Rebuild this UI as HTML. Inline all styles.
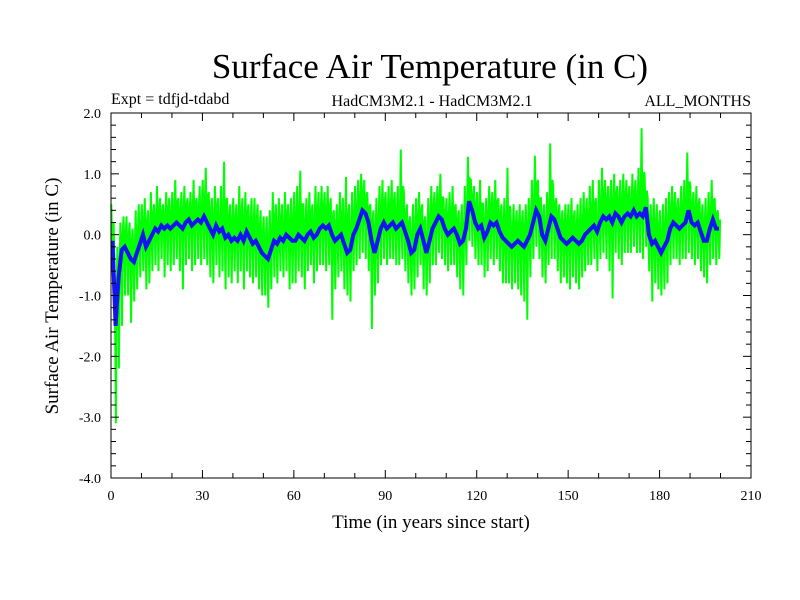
<!DOCTYPE html>
<html><head><meta charset="utf-8"><style>
body{margin:0;background:#fff}
svg{display:block;font-family:"Liberation Serif",serif}
</style></head><body>
<svg id="chart" width="800" height="600" viewBox="0 0 800 600">
<text x="430" y="78" font-size="35" text-anchor="middle">Surface Air Temperature (in C)</text>
<text x="111" y="104" font-size="16">Expt = tdfjd-tdabd</text>
<text x="432" y="106" font-size="16" text-anchor="middle">HadCM3M2.1 - HadCM3M2.1</text>
<text x="751" y="106" font-size="16" text-anchor="end">ALL_MONTHS</text>
<g id="plot"></g>
<rect x="111" y="113" width="640" height="365" fill="none" stroke="#000" stroke-width="1"/>
<g id="axes"></g>
<text x="431" y="528" font-size="19" text-anchor="middle">Time (in years since start)</text>
<text transform="translate(58,296) rotate(-90)" font-size="19" text-anchor="middle">Surface Air Temperature (in C)</text>
</svg>
<script>
const xTicks=[0,30,60,90,120,150,180,210];
const yTicks=[2.0,1.0,0.0,-1.0,-2.0,-3.0,-4.0];
const blue=[-0.1,-1.5,-0.7,-0.25,-0.2,-0.3,-0.4,-0.45,-0.3,-0.15,
0.0,-0.2,-0.1,0.0,0.1,0.05,0.15,0.1,0.15,0.1,
0.15,0.2,0.15,0.1,0.2,0.25,0.15,0.2,0.25,0.2,
0.3,0.2,0.1,0.0,0.15,0.05,0.1,-0.05,0.0,-0.1,
-0.05,-0.1,0.0,-0.1,0.05,-0.05,-0.15,-0.1,-0.2,-0.3,
-0.35,-0.4,-0.25,-0.1,-0.15,-0.05,-0.1,0.0,-0.05,-0.1,
-0.1,0.0,-0.05,-0.1,0.0,0.05,-0.05,0.0,0.1,0.15,
0.1,0.15,0.0,-0.1,-0.05,0.0,-0.15,-0.3,-0.25,0.0,
0.1,0.25,0.4,0.35,0.2,-0.1,-0.3,-0.1,0.1,0.2,
0.1,0.15,0.2,0.1,0.15,0.2,0.05,-0.1,-0.3,-0.25,
0.0,0.1,-0.1,-0.3,-0.1,0.1,0.2,0.3,0.25,0.1,
0.0,0.05,0.1,0.0,-0.15,-0.1,0.1,0.55,0.4,0.2,
0.1,0.15,-0.05,0.05,0.2,0.15,0.2,0.05,-0.05,-0.1,
-0.15,-0.2,-0.15,-0.1,-0.15,-0.2,-0.1,0.0,0.2,0.4,
0.3,0.0,-0.1,0.1,0.3,0.25,0.1,-0.05,-0.1,-0.15,
-0.1,-0.05,-0.1,-0.15,-0.1,0.0,0.05,0.1,0.15,0.05,
0.2,0.3,0.25,0.3,0.2,0.35,0.3,0.2,0.3,0.35,
0.3,0.4,0.3,0.35,0.3,0.45,0.0,-0.15,-0.1,-0.2,
-0.3,-0.2,-0.1,0.1,0.2,0.15,0.1,0.15,0.2,0.4,
0.2,0.15,0.2,0.05,-0.1,-0.1,0.1,0.25,0.1,0.1];
const greenHigh=[0.5,-0.4,-0.2,0.2,0.3,0.3,0.2,0.1,0.4,0.5,
0.5,0.6,0.4,0.7,0.5,0.8,0.6,0.5,0.7,0.6,
0.7,0.9,0.6,0.7,0.8,0.6,0.7,0.9,0.6,0.8,
0.9,1.1,0.7,0.6,0.8,0.6,0.8,1.2,0.6,0.5,
0.6,0.5,0.8,0.6,0.7,0.5,0.6,0.6,0.5,0.4,
0.3,0.3,0.4,0.7,0.5,0.6,0.5,0.7,0.5,0.6,
0.7,0.8,1.05,0.5,0.6,0.7,0.5,0.8,0.7,0.8,
0.7,0.8,0.6,0.4,0.5,0.7,0.6,0.95,0.5,0.7,
0.8,0.9,1.0,0.9,0.7,0.5,0.4,0.6,0.8,0.9,
0.7,0.8,0.9,0.7,0.8,1.4,0.7,0.5,0.3,0.5,
0.6,0.7,0.5,0.3,0.6,0.8,0.7,0.8,1.0,0.6,
0.6,0.7,0.8,0.5,0.4,0.5,0.8,1.28,0.9,0.8,
0.7,0.9,0.5,0.6,0.8,0.7,0.9,0.6,0.5,0.6,
1.1,0.4,0.5,0.4,0.5,0.4,0.5,0.6,0.9,1.3,
0.9,0.6,0.5,0.7,1.5,0.8,0.6,0.5,0.4,0.5,
0.5,0.6,0.4,0.5,0.6,0.7,0.6,0.8,0.9,0.6,
0.9,1.1,0.9,0.8,0.9,1.0,0.8,0.9,1.0,0.9,
0.8,1.0,0.9,1.1,1.75,1.0,0.6,0.5,0.6,0.5,
0.4,0.5,0.6,0.7,0.8,0.7,0.6,0.8,0.9,1.35,
0.8,0.7,0.8,0.6,0.5,0.6,0.7,0.9,0.6,0.4];
const greenLow=[-0.3,-3.1,-2.2,-1.5,-1.0,-1.0,-1.45,-1.1,-0.9,-0.7,
-0.6,-0.9,-0.8,-0.6,-0.5,-0.6,-0.4,-0.7,-0.5,-0.6,
-0.5,-0.4,-0.6,-0.9,-0.5,-0.4,-0.6,-0.5,-0.4,-0.5,
-0.4,-0.5,-0.7,-0.8,-0.5,-0.7,-0.6,-0.9,-0.7,-0.8,
-0.6,-0.8,-0.6,-0.9,-0.6,-0.7,-0.8,-0.7,-0.9,-1.0,
-1.0,-1.2,-0.9,-0.7,-0.8,-0.6,-0.7,-0.6,-0.9,-0.8,
-0.8,-0.6,-0.7,-0.9,-0.6,-0.5,-0.8,-0.6,-0.5,-0.5,
-0.6,-0.5,-1.4,-0.9,-0.7,-0.6,-0.9,-1.0,-1.1,-0.6,
-0.5,-0.4,-0.3,-0.4,-0.6,-1.55,-1.0,-0.8,-0.5,-0.4,
-0.5,-0.4,-0.4,-0.5,-0.5,-0.4,-0.6,-0.8,-1.0,-0.9,
-0.7,-0.5,-0.9,-1.0,-0.8,-0.5,-0.5,-0.3,-0.4,-0.5,
-0.6,-0.5,-0.5,-0.7,-0.9,-1.0,-0.5,-0.1,-0.2,-0.4,
-0.5,-0.5,-0.7,-0.6,-0.4,-0.5,-0.4,-0.6,-0.8,-0.8,
-0.8,-0.9,-0.8,-0.9,-1.0,-1.1,-1.4,-0.7,-0.4,-0.2,
-0.4,-0.7,-0.8,-0.5,-0.4,-0.4,-0.6,-0.8,-0.7,-0.8,
-0.9,-0.7,-0.8,-0.9,-0.7,-0.6,-0.5,-0.5,-0.4,-0.6,
-0.4,-0.3,-0.4,-0.6,-1.05,-0.3,-0.4,-0.5,-0.3,-0.3,
-0.3,-0.2,-0.3,-0.3,-0.4,-0.2,-0.6,-1.1,-0.8,-0.9,
-1.0,-0.9,-0.8,-0.5,-0.4,-0.4,-0.5,-0.4,-0.4,-0.3,
-0.4,-0.5,-0.4,-0.6,-0.7,-0.8,-0.5,-0.4,-0.5,-0.4];

const NS="http://www.w3.org/2000/svg";
const X0=111,X1=751,Y0=478,Y1=113;
const sx=v=>X0+(v-0)/(210-0)*(X1-X0);
const sy=v=>Y0-(v-(-4))/(2-(-4))*(Y0-Y1);
function mk(tag,attrs,parent){const e=document.createElementNS(NS,tag);for(const k in attrs)e.setAttribute(k,attrs[k]);parent.appendChild(e);return e;}
const plot=document.getElementById('plot'),axes=document.getElementById('axes');

let gp=[];
for(let i=0;i<greenHigh.length;i++){
gp.push(sx(i+0.1).toFixed(1)+','+sy(greenHigh[i]).toFixed(1));
gp.push(sx(i+0.35).toFixed(1)+','+sy(blue[i]).toFixed(1));
gp.push(sx(i+0.6).toFixed(1)+','+sy(greenLow[i]).toFixed(1));
gp.push(sx(i+0.85).toFixed(1)+','+sy((blue[i]+greenHigh[i])/2).toFixed(1));}
const g=mk('polyline',{points:gp.join(' '),fill:'none',stroke:'#00ff00','stroke-width':2},plot);


let bp=blue.map((v,i)=>sx(i+0.5).toFixed(1)+','+sy(v).toFixed(1));
const b=mk('polyline',{points:bp.join(' '),fill:'none',stroke:'#1414f0','stroke-width':4},plot);



for(let v=-4;v<=2.0001;v+=0.2){const y=sy(v);const major=Math.abs(v-Math.round(v))<1e-6;const L=major?8:5;
mk('line',{x1:X0,x2:X0+L,y1:y,y2:y,stroke:'#000'},axes);mk('line',{x1:X1-L,x2:X1,y1:y,y2:y,stroke:'#000'},axes);}
yTicks.forEach(v=>{const t=mk('text',{x:101,y:sy(v)+5,'font-size':14,'text-anchor':'end'},axes);t.textContent=v.toFixed(1);

});
for(let v=0;v<=210;v+=10){const x=sx(v);const major=v%30===0;const L=major?8:5;
mk('line',{x1:x,x2:x,y1:Y0,y2:Y0-L,stroke:'#000'},axes);mk('line',{x1:x,x2:x,y1:Y1,y2:Y1+L,stroke:'#000'},axes);}
xTicks.forEach(v=>{const t=mk('text',{x:sx(v),y:500,'font-size':14,'text-anchor':'middle'},axes);t.textContent=v;

});
</script>
</body></html>
